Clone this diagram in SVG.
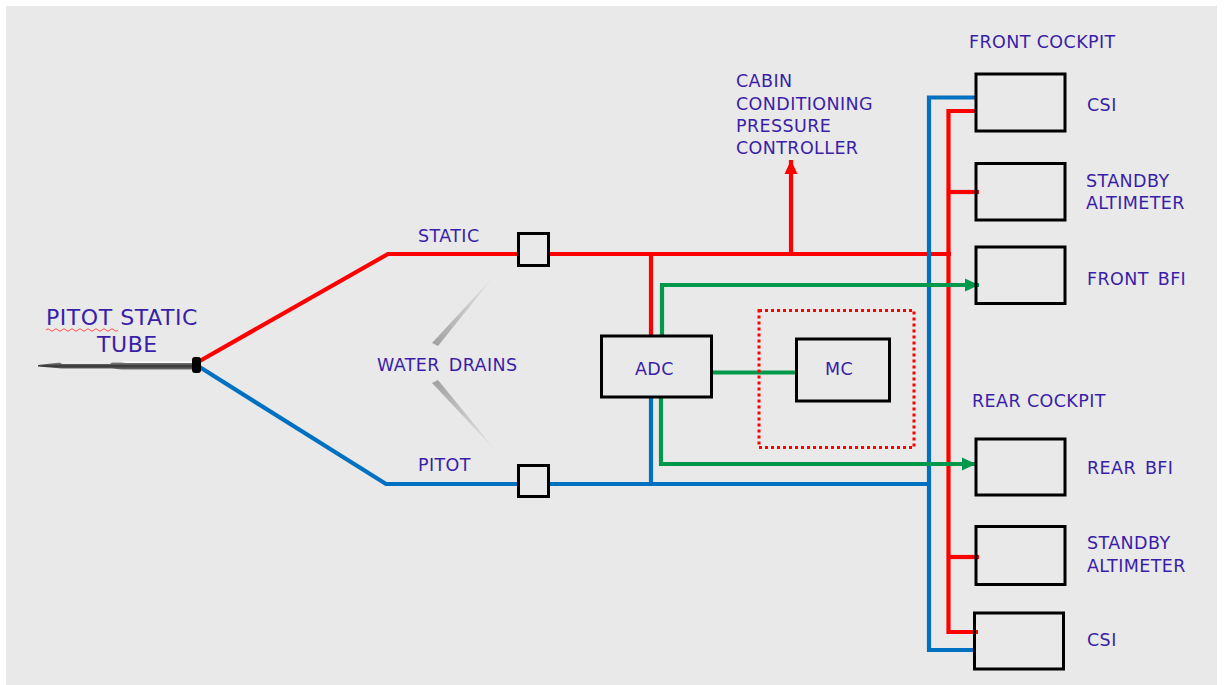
<svg xmlns="http://www.w3.org/2000/svg" width="1227" height="685" viewBox="0 0 1227 685">
<style>
text{font-family:"DejaVu Sans","Liberation Sans",sans-serif;font-size:17.5px;fill:#3a1ea8;letter-spacing:.4px}
.box{fill:none;stroke:#000;stroke-width:3}
.fill{fill:#e9e9e9}
.w{fill:none;stroke-width:4.200;stroke-linejoin:miter}
.r{stroke:#ff0000}.b{stroke:#0070c0}.g{stroke:#00994c}
.big{font-size:22px;letter-spacing:.55px}
.ws{word-spacing:3px}
</style>
<defs>
<marker id="ag" markerUnits="userSpaceOnUse" markerWidth="15" markerHeight="15" refX="14" refY="7.500" orient="auto"><path d="M0 1L14 7.500L0 14Z" fill="#00994c"/></marker>
<marker id="ar" markerUnits="userSpaceOnUse" markerWidth="15" markerHeight="15" refX="14" refY="7.500" orient="auto"><path d="M0 1L14 7.500L0 14Z" fill="#ff0000"/></marker>
<linearGradient id="d1" x1="0" y1="1" x2="1" y2="0"><stop offset="0" stop-color="#a0a0a0"/><stop offset="1" stop-color="#e9e9e9"/></linearGradient>
<linearGradient id="d2" x1="0" y1="0" x2="1" y2="1"><stop offset="0" stop-color="#a0a0a0"/><stop offset="1" stop-color="#e9e9e9"/></linearGradient>
<linearGradient id="t" x1="0" y1="0" x2="0" y2="1"><stop offset="0" stop-color="#8a8a8a"/><stop offset=".5" stop-color="#333"/><stop offset="1" stop-color="#707070"/></linearGradient>
</defs>
<rect width="1227" height="685" fill="#fff"/>
<rect x="6" y="6" width="1211" height="679" fill="#e9e9e9"/>
<g id="connectors">
<path class="w r" d="M198 362L388 254H951"/>
<path class="w b" d="M198 366L386 484H929"/>
<path class="w r" d="M651 254V336"/>
<path class="w b" d="M651 397V484"/>
<path class="w r" d="M791 254V160" marker-end="url(#ar)"/>
<path class="w b" d="M975 97.500H929V650H975"/>
<path class="w r" d="M977 111H948.500V632H978"/>
<path class="w r" d="M948 192H979"/>
<path class="w r" d="M948 557H979"/>
<path class="w g" d="M662 336V285H979" marker-end="url(#ag)"/>
<path class="w g" d="M661 397V464H976" marker-end="url(#ag)"/>
<path class="w g" d="M712 372.500H797"/>
</g>
<g id="tube">
<path d="M122 361H194V363H122Z" fill="#f6f6f6"/>
<path d="M38 365L60 362.500L62 364L110 364L112 362.500H122L126 363H196V369.500H122L112 368.500H62L38 366.500Z" fill="url(#t)"/>
<rect x="192" y="357" width="9" height="16" rx="3" fill="#000"/>
<text class="big" x="46" y="325">PITOT STATIC</text>
<text class="big" x="97" y="352">TUBE</text>
<path d="M46 330q2-2.500 4 0t4 0t4 0t4 0t4 0t4 0t4 0t4 0t4 0t4 0t4 0t4 0t4 0t4 0t4 0t4 0t4 0t4 0" fill="none" stroke="#ff5050" stroke-width="1"/>
</g>
<g id="valve-static"><rect class="box fill" x="518.500" y="233.500" width="30" height="32"/></g>
<g id="valve-pitot"><rect class="box fill" x="518.500" y="465.500" width="30" height="31"/></g>
<g id="drains">
<path d="M432 343L438 346L495 275Z" fill="url(#d1)"/>
<path d="M432 383L438 380L497 452Z" fill="url(#d2)"/>
<text class="ws" x="377" y="371">WATER DRAINS</text>
<text x="418" y="242">STATIC</text>
<text x="418" y="471">PITOT</text>
</g>
<g id="cabin"><text x="736" y="87">CABIN</text><text x="736" y="110">CONDITIONING</text><text x="736" y="132">PRESSURE</text><text x="736" y="154">CONTROLLER</text></g>
<g id="adc"><rect class="box fill" x="601.500" y="336" width="110" height="61"/><text x="635" y="375">ADC</text></g>
<g id="mc"><rect x="759" y="310.500" width="155" height="137" fill="none" stroke="#ff0000" stroke-width="3" stroke-dasharray="3 3"/><rect class="box fill" x="796.500" y="339" width="93" height="62"/><text x="825" y="375">MC</text></g>
<text x="969" y="48">FRONT COCKPIT</text>
<text x="972" y="407">REAR COCKPIT</text>
<g id="f-csi"><rect class="box" x="976" y="74" width="89" height="57"/><text x="1087" y="111">CSI</text></g>
<g id="f-alt"><rect class="box" x="976" y="163.500" width="89" height="56.500"/><text x="1086" y="187">STANDBY</text><text x="1086" y="209">ALTIMETER</text></g>
<g id="f-bfi"><rect class="box" x="976" y="247" width="89" height="56.500"/><text class="ws" x="1087" y="285">FRONT BFI</text></g>
<g id="r-bfi"><rect class="box" x="976" y="439" width="89" height="56"/><text class="ws" x="1087" y="474">REAR BFI</text></g>
<g id="r-alt"><rect class="box" x="976" y="526.500" width="89" height="58"/><text x="1087" y="549">STANDBY</text><text x="1087" y="572">ALTIMETER</text></g>
<g id="r-csi"><rect class="box" x="974.500" y="613" width="89" height="56"/><text x="1087" y="646">CSI</text></g>
</svg>
